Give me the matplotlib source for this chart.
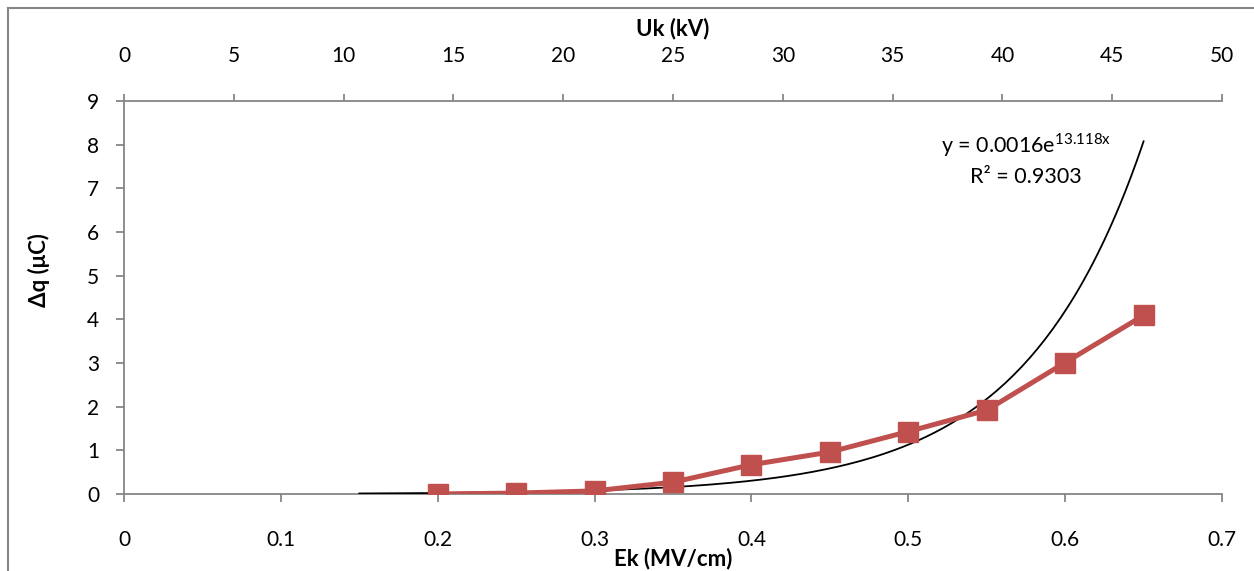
import matplotlib.pyplot as plt
import numpy as np
from matplotlib.lines import Line2D

plt.rcParams['font.family'] = ['Lato', 'DejaVu Sans']

ek = [0.2, 0.25, 0.3, 0.35, 0.4, 0.45, 0.5, 0.55, 0.6, 0.65]
dq = [0.0, 0.02, 0.07, 0.27, 0.67, 0.96, 1.43, 1.92, 3.01, 4.09]

# trendline coefficients shown on the chart
fitA = 0.0016
fitB = 13.118
fitStart = 0.15
fitEnd = 0.65

gray = "#868686"
red = "#C0504D"

fig = plt.figure(figsize=(12.54, 5.71), dpi=100)
ax = fig.add_axes([0.0989, 0.1349, 0.8756, 0.6882])

fitX = np.linspace(fitStart, fitEnd, 200)
ax.plot(fitX, fitA * np.exp(fitB * fitX), color="black", linewidth=1.3, zorder=3)
ax.plot(ek, dq, color=red, linewidth=3.6, marker="s", markersize=14, zorder=4)

ax.set_xlim(0, 0.7)
ax.set_ylim(0, 9)
ax.set_xticks(np.arange(0, 0.71, 0.1))
ax.set_xticklabels(["0", "0.1", "0.2", "0.3", "0.4", "0.5", "0.6", "0.7"])
ax.set_yticks(range(0, 10))
for side in ["right", "top"]:
    ax.spines[side].set_visible(False)
for side in ["left", "bottom"]:
    ax.spines[side].set_color(gray)
    ax.spines[side].set_linewidth(1.3)
ax.tick_params(axis="both", colors=gray, labelcolor="black", labelsize=15,
               length=6, width=1.3, direction="out")
ax.tick_params(axis="x", pad=20)
ax.tick_params(axis="y", pad=12)
ax.set_xlabel("Ek (MV/cm)", fontsize=16, fontweight="bold", labelpad=-2)
ax.set_ylabel("Δq (μC)", fontsize=16, fontweight="bold")
ax.yaxis.set_label_coords(-0.067, 0.57)

top = ax.twiny()
top.set_xlim(0, 50)
top.set_xticks(range(0, 51, 5))
top.spines["top"].set_color(gray)
top.spines["top"].set_linewidth(1.3)
for side in ["right", "left", "bottom"]:
    top.spines[side].set_visible(False)
top.tick_params(axis="x", colors=gray, labelcolor="black", labelsize=15,
                length=5, width=1.3, direction="out", pad=20)
top.set_xlabel("Uk (kV)", fontsize=16, fontweight="bold", labelpad=8)

ax.text(0.575, 8.0, "y = 0.0016e$^{\\mathregular{13.118x}}$", fontsize=15.5, ha="center", va="center")
ax.text(0.575, 7.25, "R² = 0.9303", fontsize=15.5, ha="center", va="center")

# outer chart frame
fig.add_artist(Line2D([8 / 1254, 8 / 1254], [0, 1 - 8 / 571], color=gray, linewidth=1.5))
fig.add_artist(Line2D([8 / 1254, 1], [1 - 8 / 571, 1 - 8 / 571], color=gray, linewidth=1.5))

fig.savefig("out.png", dpi=100)
